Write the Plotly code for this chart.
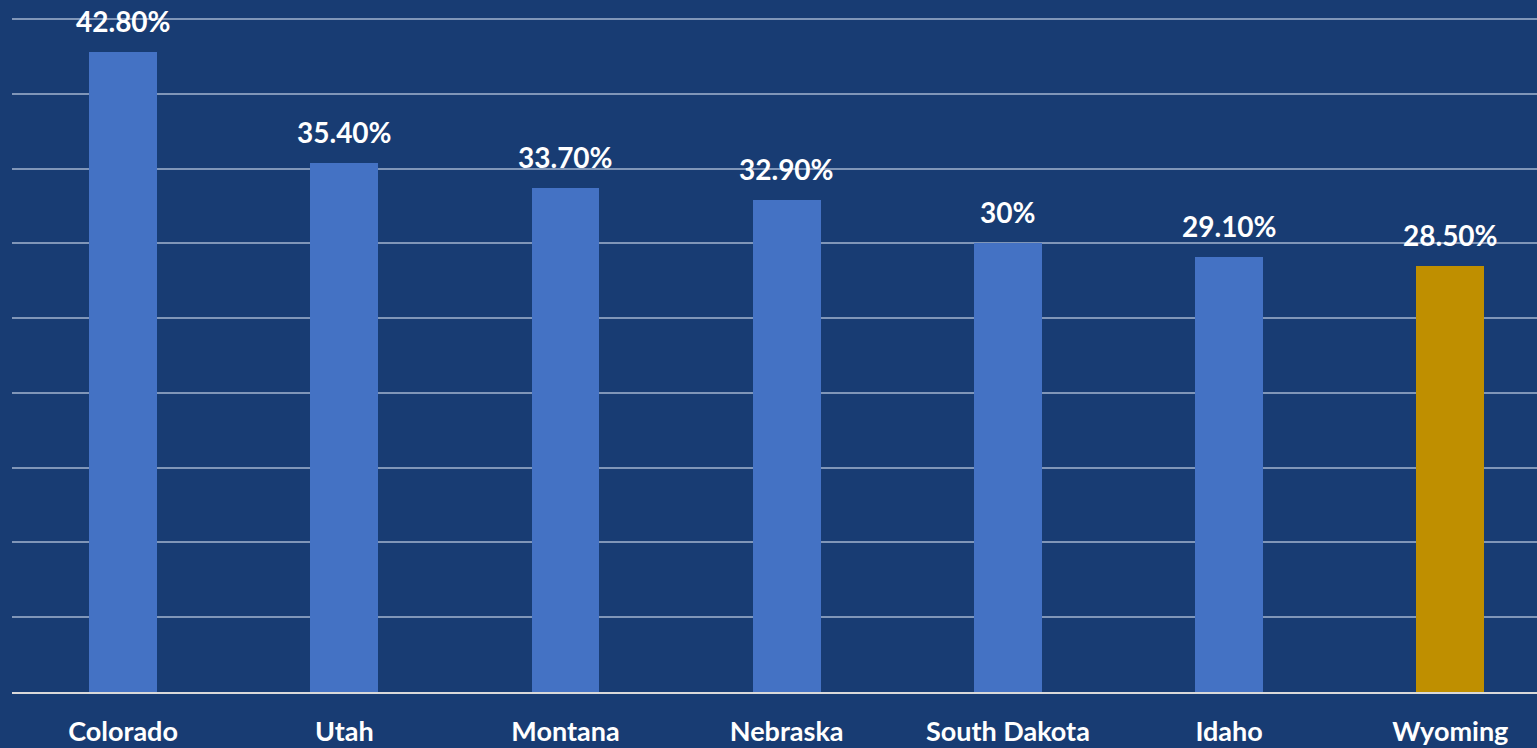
import plotly.graph_objects as go

states = ["Colorado", "Utah", "Montana", "Nebraska", "South Dakota", "Idaho", "Wyoming"]
values = [42.8, 35.4, 33.7, 32.9, 30.0, 29.1, 28.5]
value_labels = ["42.80%", "35.40%", "33.70%", "32.90%", "30%", "29.10%", "28.50%"]

BG = "#183c73"
BLUE = "#4472c4"
GOLD = "#bf8f00"
FONT = "Lato"

colors = [GOLD if s == "Wyoming" else BLUE for s in states]
xpos = list(range(len(states)))

fig = go.Figure()
fig.add_trace(go.Bar(
    x=xpos, y=values,
    marker=dict(color=colors, line=dict(width=0)),
    width=0.307,
    hoverinfo="skip",
))

# etiquetas de valor sobre cada barra
for x, v, lab in zip(xpos, values, value_labels):
    fig.add_annotation(
        x=x, y=v, text=f"<b>{lab}</b>", showarrow=False,
        yanchor="bottom", yshift=12,
        font=dict(family=FONT, size=28, color="white"),
    )

fig.update_xaxes(
    range=[-0.502, 6.392],
    tickvals=xpos, ticktext=[f"<b>{s}</b>" for s in states],
    tickfont=dict(family=FONT, size=27, color="white"),
    showgrid=False, zeroline=False,
    showline=True, linecolor="#d9d9d9", linewidth=2,
    ticks="", ticklabelstandoff=15,
)
fig.update_yaxes(
    range=[0, 45.6], dtick=5,
    showticklabels=False, showgrid=True,
    gridcolor="#8096b8", gridwidth=1.5, zeroline=False,
)
fig.update_layout(
    width=1537, height=748,
    paper_bgcolor=BG, plot_bgcolor=BG,
    margin=dict(l=12, r=0, t=10, b=56),
    showlegend=False,
    bargap=0,
)

# quitar el margen del body para que el grafico ocupe toda la ventana
fig.write_html("out.html", config={"displayModeBar": False},
               post_script="document.body.style.margin='0';document.body.style.background='%s';" % BG)
